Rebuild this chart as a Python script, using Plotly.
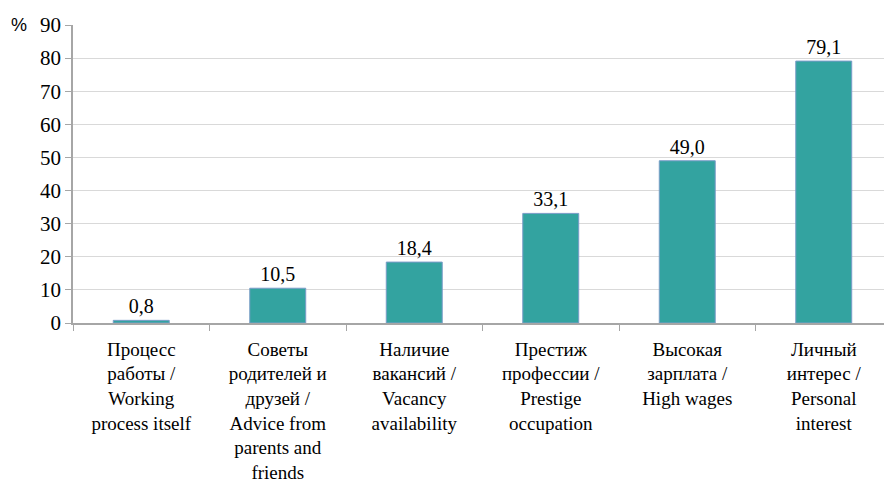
import plotly.graph_objects as go

categories = [
    "Процесс<br>работы /<br>Working<br>process itself",
    "Советы<br>родителей и<br>друзей /<br>Advice from<br>parents and<br>friends",
    "Наличие<br>вакансий /<br>Vacancy<br>availability",
    "Престиж<br>профессии /<br>Prestige<br>occupation",
    "Высокая<br>зарплата /<br>High wages",
    "Личный<br>интерес /<br>Personal<br>interest",
]
values = [0.8, 10.5, 18.4, 33.1, 49.0, 79.1]
labels = ["0,8", "10,5", "18,4", "33,1", "49,0", "79,1"]
y_ticks = [0, 10, 20, 30, 40, 50, 60, 70, 80, 90]

font = "Times New Roman, Liberation Serif, DejaVu Serif, serif"

fig = go.Figure(go.Bar(
    x=categories, y=values, text=labels, textposition="outside",
    textfont=dict(family=font, size=20, color="#000"),
    marker=dict(color="#33A3A0", line=dict(color="#7A9CC8", width=1)),
    width=0.41, cliponaxis=False,
))
fig.update_layout(
    width=884, height=479,
    margin=dict(l=65, r=0, t=17, b=164),
    plot_bgcolor="white", paper_bgcolor="white",
    showlegend=False,
    font=dict(family=font, size=19, color="#000"),
    xaxis=dict(showline=True, linecolor="#A6A6A6", linewidth=1.5,
               ticks="outside", tickson="boundaries", ticklen=6, tickcolor="#A6A6A6",
               ticklabelstandoff=8,
               tickfont=dict(family=font, size=19, color="#000")),
    yaxis=dict(range=[0, 90], tickvals=y_ticks, showline=True, linecolor="#A6A6A6",
               linewidth=1.5, ticks="outside", ticklen=6, tickcolor="#A6A6A6",
               gridcolor="#D9D9D9", gridwidth=1, zeroline=False,
               tickfont=dict(family=font, size=21, color="#000")),
    annotations=[dict(text="%", xref="paper", yref="paper", x=-0.066, y=1.0,
                      xanchor="center", yanchor="middle", showarrow=False,
                      font=dict(family="Liberation Sans", size=18))],
)
fig.write_html("out.html")
